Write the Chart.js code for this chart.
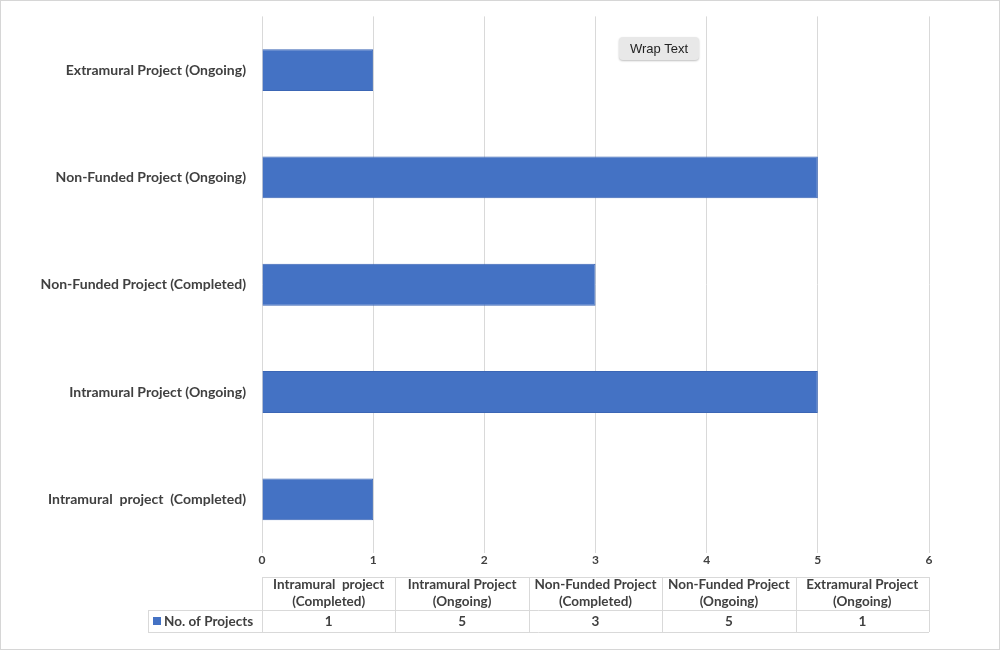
<!DOCTYPE html>
<html>
<head>
<meta charset="utf-8">
<script src="https://cdn.jsdelivr.net/npm/chart.js@4"></script>
<style>
    body { margin: 0; background: #fff; }
    #wrap { position: relative; width: 1000px; height: 650px; }
    #frame { position: absolute; left: 0; top: 0; width: 998px; height: 648px; border: 1px solid #d6d6d6; pointer-events: none; }
    #wrapBtn {
        position: absolute; left: 619px; top: 37px; width: 80px; height: 23px;
        background: #e8e8e8; border-radius: 4px; box-shadow: 0 1px 2px rgba(0,0,0,0.25);
        font: 13px "Liberation Sans", Arial, sans-serif; color: #222;
        line-height: 23px; text-align: center;
    }
</style>
</head>
<body>
<div id="wrap">
    <canvas id="chart" width="1000" height="650"></canvas>
    <div id="frame"></div>
    <div id="wrapBtn">Wrap Text</div>
</div>
<script>
// Chart data
const categories = [
    'Intramural  project  (Completed)',
    'Intramural Project (Ongoing)',
    'Non-Funded Project (Completed)',
    'Non-Funded Project (Ongoing)',
    'Extramural Project (Ongoing)'
];
const tableHeaders = [
    ['Intramural  project', '(Completed)'],
    ['Intramural Project', '(Ongoing)'],
    ['Non-Funded Project', '(Completed)'],
    ['Non-Funded Project', '(Ongoing)'],
    ['Extramural Project', '(Ongoing)']
];
const seriesName = 'No. of Projects';
const projectCounts = [1, 5, 3, 5, 1];
const xTicks = [0, 1, 2, 3, 4, 5, 6];

const textColor = '#404040';
const gridColor = '#d9d9d9';
const barColor = '#4472C4';

// Data table drawn under the axis
const dataTablePlugin = {
    id: 'dataTable',
    afterDraw(chart) {
        const ctx = chart.ctx;
        const x = chart.scales.x;
        const left = x.left, right = x.right;
        const colW = (right - left) / categories.length;
        const top = 577, mid = 610, bottom = 632, keyLeft = 148;

        ctx.save();
        ctx.strokeStyle = gridColor;
        ctx.lineWidth = 1;
        ctx.beginPath();
        // horizontal lines
        ctx.moveTo(left, top + 0.5); ctx.lineTo(right, top + 0.5);
        ctx.moveTo(keyLeft, mid + 0.5); ctx.lineTo(right, mid + 0.5);
        ctx.moveTo(keyLeft, bottom + 0.5); ctx.lineTo(right, bottom + 0.5);
        // vertical lines
        for (let i = 0; i <= categories.length; i++) {
            const px = Math.round(left + i * colW) + 0.5;
            ctx.moveTo(px, top); ctx.lineTo(px, bottom);
        }
        ctx.moveTo(keyLeft + 0.5, mid); ctx.lineTo(keyLeft + 0.5, bottom);
        ctx.stroke();

        ctx.fillStyle = textColor;
        ctx.font = 'bold 13.5px Lato, sans-serif';
        ctx.textAlign = 'center';
        ctx.textBaseline = 'middle';
        tableHeaders.forEach((lines, i) => {
            const cx = left + (i + 0.5) * colW;
            ctx.fillText(lines[0], cx, top + 8);
            ctx.fillText(lines[1], cx, top + 25);
            ctx.fillText(String(projectCounts[i]), cx, (mid + bottom) / 2 + 1);
        });

        // legend key
        ctx.fillStyle = barColor;
        ctx.fillRect(keyLeft + 5, mid + 7, 8, 8);
        ctx.fillStyle = textColor;
        ctx.textAlign = 'left';
        ctx.fillText(seriesName, keyLeft + 16, (mid + bottom) / 2 + 1);
        ctx.restore();
    }
};

new Chart(document.getElementById('chart'), {
    type: 'bar',
    data: {
        labels: categories,
        datasets: [{
            label: seriesName,
            data: projectCounts,
            backgroundColor: barColor,
            borderColor: '#3b66b5',
            borderWidth: 1,
            categoryPercentage: 1,
            barPercentage: 0.39
        }]
    },
    options: {
        indexAxis: 'y',
        responsive: false,
        animation: false,
        layout: { padding: { top: 6, right: 71, left: 0, bottom: 0 } },
        plugins: {
            legend: { display: false },
            tooltip: { enabled: false }
        },
        scales: {
            x: {
                min: 0,
                max: 6,
                afterBuildTicks: (scale) => { scale.ticks = xTicks.map(v => ({ value: v })); },
                afterFit: (scale) => { scale.height = 97; },
                grid: { color: gridColor, drawTicks: false },
                border: { display: false },
                ticks: {
                    padding: 0,
                    color: textColor,
                    font: { family: 'Lato, sans-serif', size: 12, weight: 'bold' }
                }
            },
            y: {
                reverse: true,
                afterFit: (scale) => { scale.width = 262; },
                grid: { display: false },
                border: { display: false },
                ticks: {
                    padding: 8,
                    color: textColor,
                    font: { family: 'Lato, sans-serif', size: 14, weight: 'bold' }
                }
            }
        }
    },
    plugins: [dataTablePlugin]
});
</script>
</body>
</html>
